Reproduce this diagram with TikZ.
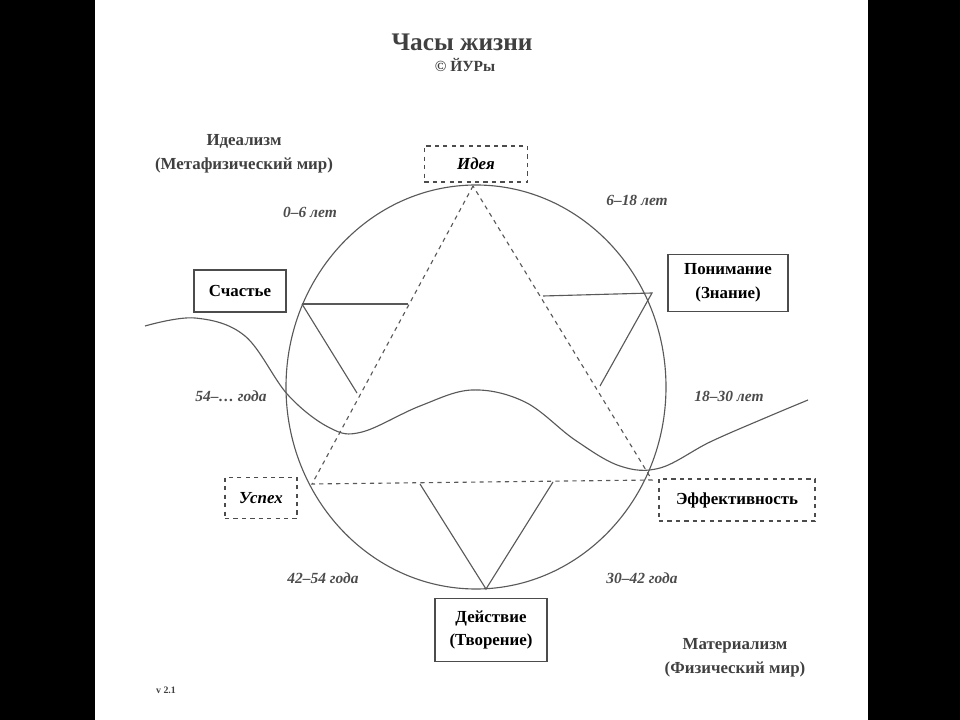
\documentclass[tikz,border=0pt]{standalone}
\usepackage{fontspec}
\setmainfont{Liberation Serif}
\usetikzlibrary{positioning}

\tikzset{
  box/.style={draw=black!70, line width=0.9pt, inner sep=0pt, align=center, font=\bfseries\fontsize{12}{17}\selectfont},
  dbox/.style={box, dashed},
  lbl/.style={font=\bfseries\fontsize{12}{17}\selectfont, text=black!75, align=center},
  age/.style={font=\bfseries\itshape\fontsize{11}{13}\selectfont, text=black!70},
  ln/.style={draw=black!65, line width=0.8pt}
}

\begin{document}
\begin{tikzpicture}[x=0.025cm, y=-0.025cm]
    \useasboundingbox (0,0) rectangle (960,720);
    \fill[black] (0,0) rectangle (95,720);
    \fill[black] (868,0) rectangle (960,720);

    \node[lbl, font=\bfseries\fontsize{18}{20}\selectfont] (title) at (462,42) {Часы жизни};
    \node[lbl, font=\bfseries\fontsize{11}{13}\selectfont] (copy) at (465,65) {© ЙУРы};
    \node[lbl] (ideal) at (244,154) {Идеализм\\(Метафизический мир)};
    \node[lbl] (mater) at (735,658) {Материализм\\(Физический мир)};
    \node[lbl, font=\bfseries\fontsize{7}{8}\selectfont] (ver) at (166,690) {v 2.1};

    \node[dbox, minimum width=2.58cm, minimum height=0.9cm, font=\bfseries\itshape\fontsize{12}{17}\selectfont] (idea) at (476,164) {Идея};
    \node[box, minimum width=2.3cm, minimum height=1.05cm] (happy) at (240,291) {Счастье};
    \node[box, minimum width=3cm, minimum height=1.43cm] (know) at (728,283) {Понимание\\(Знание)};
    \node[dbox, minimum width=1.8cm, minimum height=1.03cm, font=\bfseries\itshape\fontsize{12}{17}\selectfont] (succ) at (261,498) {Успех};
    \node[dbox, minimum width=3.9cm, minimum height=1.05cm] (eff) at (737,500) {Эффективность};
    \node[box, minimum width=2.8cm, minimum height=1.58cm] (act) at (491,630) {Действие\\(Творение)};

    \node[age] (a1) at (310,212) {0–6 лет};
    \node[age] (a2) at (637,200) {6–18 лет};
    \node[age] (a3) at (729,396) {18–30 лет};
    \node[age] (a4) at (642,578) {30–42 года};
    \node[age] (a5) at (323,578) {42–54 года};
    \node[age] (a6) at (231,396) {54–… года};

    % clock
    \draw[ln] (476,387) ellipse [x radius=190, y radius=202];
    \coordinate (top) at (473,186);
    \coordinate (bl) at (312,484);
    \coordinate (br) at (652,480);
    \coordinate (bot) at (486,589);
    \coordinate (ul) at (302,304);
    \coordinate (ulr) at (408,304);
    \coordinate (uld) at (357,393);
    \coordinate (ur) at (652,293);
    \coordinate (url) at (543,296);
    \coordinate (urd) at (600,386);
    \coordinate (lbl1) at (420,484);
    \coordinate (lbr1) at (553,482);

    \draw[ln, dashed] (top) -- (bl) -- (br) -- cycle;
    \draw[ln] (ul) -- (ulr);
    \draw[ln] (ul) -- (uld);
    \draw[ln] (url) -- (ur) -- (urd);
    \draw[ln] (lbl1) -- (bot) -- (lbr1);

    % wave
    \draw[ln] plot[smooth, tension=0.6] coordinates {(145,326) (195,318) (245,336) (288,395) (330,428) (362,432) (420,406) (472,390) (525,402) (575,440) (620,466) (660,468) (710,442) (765,418) (808,400)};
\end{tikzpicture}
\end{document}
